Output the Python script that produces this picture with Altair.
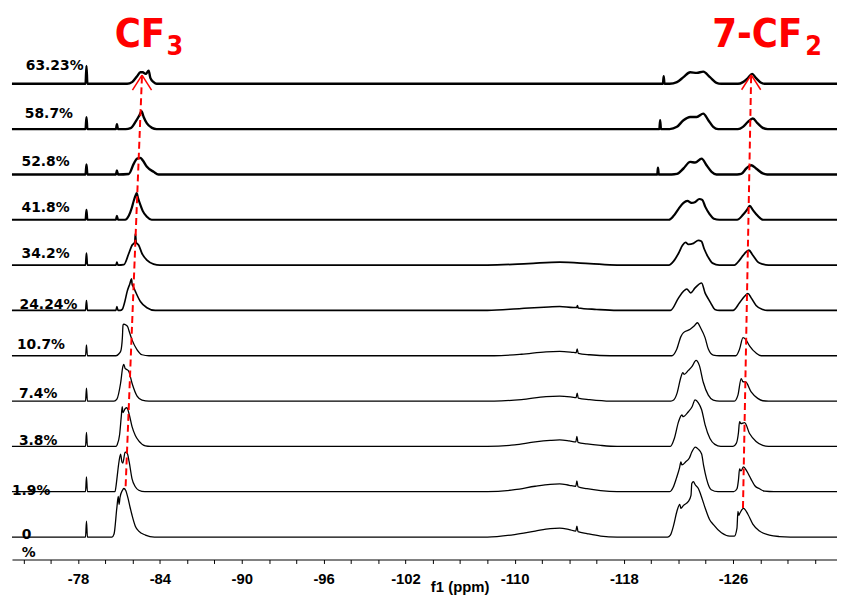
import altair as alt
import pandas as pd

# ------------------------------------------------------------------ data
concentrations = ["0\n%", "1.9%", "3.8%", "7.4%", "10.7%", "24.24%",
                  "34.2%", "41.8%", "52.8%", "58.7%", "63.23%"]

# (ppm, intensity) control points, one list per spectrum
spec_0 = [(-73.16, 0), (-78.55, 0), (-78.62, 16), (-78.69, 0),
          (-80.49, 0), (-80.64, 3), (-80.85, 30), (-80.95, 41), (-81.01, 33), (-81.08, 40),
          (-81.25, 47), (-81.36, 49), (-81.50, 47), (-81.65, 40), (-81.80, 31), (-81.96, 22),
          (-82.20, 11), (-82.45, 6), (-82.94, 2), (-83.60, 0),
          (-108.0, 0), (-110.0, 2.5), (-111.5, 6), (-112.6, 8.5), (-113.3, 9), (-114.0, 7.5),
          (-114.48, 6), (-114.56, 11), (-114.64, 5.5), (-115.3, 3.5), (-116.3, 1), (-117.5, 0),
          (-121.2, 0), (-121.41, 2), (-121.65, 12), (-121.89, 26), (-122.10, 33), (-122.18, 29),
          (-122.37, 32), (-122.73, 36), (-122.92, 42), (-122.98, 54), (-123.10, 56), (-123.22, 53),
          (-123.46, 49), (-123.63, 43), (-123.99, 28), (-124.27, 18), (-124.55, 12.7),
          (-125.15, 4.3), (-125.76, 1),
          (-126.10, 1), (-126.29, 9), (-126.36, 26), (-126.43, 22), (-126.50, 24), (-126.77, 29),
          (-127.09, 23), (-127.45, 13), (-127.94, 6), (-128.66, 2), (-129.39, 0.5), (-130.2, 0),
          (-133.62, 0)]

spec_1_9 = [(-73.16, 0), (-78.55, 0), (-78.62, 15), (-78.69, 0),
            (-80.71, 0), (-80.78, 5), (-80.85, 13), (-81.00, 30), (-81.12, 38), (-81.22, 30),
            (-81.29, 29), (-81.45, 40), (-81.60, 39), (-81.75, 30), (-81.96, 13), (-82.20, 5),
            (-82.45, 1.5), (-82.90, 0),
            (-108.0, 0), (-110.0, 2), (-111.5, 5.5), (-112.6, 7.5), (-113.3, 8), (-114.0, 6.5),
            (-114.48, 5.5), (-114.56, 11), (-114.64, 5), (-115.3, 3), (-116.3, 1), (-117.5, 0),
            (-121.35, 0), (-121.60, 4), (-121.86, 14), (-122.08, 24), (-122.18, 30), (-122.26, 27),
            (-122.52, 30), (-122.80, 34), (-122.98, 40), (-123.24, 45), (-123.45, 43), (-123.70, 38),
            (-123.85, 26), (-124.06, 13), (-124.25, 5), (-124.40, 2), (-124.9, 0),
            (-126.05, 0), (-126.29, 3), (-126.40, 12), (-126.48, 23), (-126.58, 21), (-126.77, 25),
            (-127.00, 21), (-127.31, 13), (-127.60, 6), (-127.94, 3), (-128.32, 0.5), (-129.0, 0),
            (-133.62, 0)]

spec_3_8 = [(-73.16, 0), (-78.55, 0), (-78.62, 14), (-78.69, 0),
            (-80.78, 0), (-80.88, 2), (-81.05, 12), (-81.17, 30), (-81.24, 40), (-81.30, 34),
            (-81.45, 38), (-81.58, 39), (-81.72, 34), (-81.96, 20), (-82.20, 11), (-82.45, 5.6),
            (-82.94, 0.5), (-83.30, 0),
            (-108.0, 0), (-110.0, 1.5), (-111.5, 4.5), (-112.6, 6), (-113.3, 6.5), (-114.0, 5.5),
            (-114.48, 4.5), (-114.56, 10), (-114.64, 4), (-115.3, 2.5), (-116.3, 1), (-117.5, 0),
            (-121.41, 0), (-121.70, 8), (-122.01, 25), (-122.25, 31.7), (-122.35, 30), (-122.73, 35),
            (-123.00, 40), (-123.22, 47), (-123.46, 44), (-123.70, 37), (-123.95, 22), (-124.31, 8),
            (-124.67, 2), (-125.10, 0),
            (-126.00, 0), (-126.24, 3), (-126.40, 14), (-126.48, 25), (-126.58, 23), (-126.85, 24),
            (-127.21, 13), (-127.69, 5), (-128.18, 1), (-128.60, 0),
            (-133.62, 0)]

spec_7_4 = [(-73.16, 0), (-78.55, 0), (-78.62, 13), (-78.69, 0),
            (-80.64, 0), (-80.85, 2), (-81.12, 18), (-81.29, 35), (-81.36, 37), (-81.45, 33),
            (-81.56, 32), (-81.72, 30), (-81.96, 18), (-82.33, 5), (-82.69, 1), (-83.20, 0),
            (-108.5, 0), (-110.5, 1.5), (-112.3, 4.5), (-113.3, 5), (-114.2, 4), (-114.50, 3.5),
            (-114.58, 8), (-114.66, 3), (-115.5, 1.5), (-117.0, 0),
            (-121.45, 0), (-121.65, 1), (-121.90, 8), (-122.18, 24), (-122.32, 28.7), (-122.42, 27),
            (-122.73, 31), (-123.00, 35), (-123.29, 41), (-123.53, 36), (-123.82, 19), (-124.19, 6),
            (-124.55, 1), (-125.00, 0),
            (-126.10, 0), (-126.36, 6), (-126.60, 22.7), (-126.73, 19.5), (-126.92, 19.3),
            (-127.33, 9.3), (-127.81, 2.7), (-128.18, 0.3), (-128.60, 0),
            (-133.62, 0)]

spec_10_7 = [(-73.16, 0), (-78.55, 0), (-78.62, 11), (-78.69, 0),
             (-80.78, 0), (-81.00, 2), (-81.14, 5), (-81.25, 18), (-81.30, 31), (-81.36, 32),
             (-81.51, 31), (-81.65, 29), (-81.72, 26), (-81.96, 16), (-82.33, 6), (-82.69, 1),
             (-83.20, 0),
             (-108.5, 0), (-110.5, 1.5), (-112.3, 4), (-113.3, 4.5), (-114.2, 3.5), (-114.50, 3),
             (-114.58, 7), (-114.66, 2.5), (-115.5, 1), (-117.0, 0),
             (-121.52, 0), (-121.86, 6), (-122.18, 19.3), (-122.37, 23.3), (-122.86, 26.7),
             (-123.15, 30), (-123.39, 33.3), (-123.63, 28), (-123.95, 18.3), (-124.19, 6.7),
             (-124.55, 0.7), (-125.00, 0),
             (-126.20, 0), (-126.48, 6.7), (-126.73, 18.3), (-126.92, 16.7), (-127.21, 10),
             (-127.69, 2.7), (-128.06, 0),
             (-133.62, 0)]

spec_24_24 = [(-73.16, 0), (-78.55, 0), (-78.62, 10), (-78.69, 0),
              (-80.78, 0), (-80.85, 4), (-80.93, 0),
              (-81.10, 0), (-81.24, 1), (-81.45, 10), (-81.60, 19), (-81.80, 27), (-81.92, 32),
              (-81.97, 26), (-82.05, 24), (-82.21, 19), (-82.57, 9), (-83.05, 2.7), (-83.66, 0),
              (-108.0, 0), (-110.5, 2), (-112.5, 3.5), (-113.3, 4), (-114.3, 3), (-114.55, 3),
              (-114.60, 5), (-114.65, 2.5), (-116.0, 1), (-117.5, 0),
              (-121.41, 0), (-122.01, 12.7), (-122.37, 19.3), (-122.61, 21.7), (-122.90, 17.7),
              (-123.22, 22.7), (-123.70, 27.7), (-123.95, 17.7), (-124.19, 11.7), (-124.36, 7.7),
              (-124.67, 1), (-125.00, 0),
              (-126.00, 0), (-126.48, 7.7), (-126.85, 14.3), (-127.09, 17), (-127.33, 12.7),
              (-127.69, 5), (-128.18, 1), (-128.50, 0),
              (-133.62, 0)]

spec_34_2 = [(-73.16, 0), (-78.55, 0), (-78.62, 12), (-78.69, 0),
             (-80.78, 0), (-80.85, 3), (-80.93, 0),
             (-81.36, 0.5), (-81.72, 11.7), (-81.96, 20), (-82.16, 23.3), (-82.21, 31.7),
             (-82.26, 23), (-82.45, 20), (-82.69, 11.7), (-83.05, 5), (-83.54, 1), (-84.00, 0),
             (-108.0, 0), (-111.0, 1.5), (-113.3, 3), (-115.5, 1.5), (-117.5, 0),
             (-121.30, 0), (-121.65, 4), (-122.01, 12), (-122.30, 20), (-122.52, 23), (-122.73, 21),
             (-123.10, 22), (-123.46, 25), (-123.68, 24), (-123.90, 16), (-124.18, 8),
             (-124.50, 2), (-125.00, 0),
             (-126.10, 0), (-126.48, 5), (-126.85, 11.7), (-127.16, 15), (-127.45, 10),
             (-127.81, 3.3), (-128.18, 1), (-128.60, 0),
             (-133.62, 0)]

spec_41_8 = [(-73.16, 0), (-78.55, 0), (-78.62, 10), (-78.69, 0),
             (-80.78, 0), (-80.85, 4), (-80.93, 0),
             (-81.45, 0), (-81.72, 4), (-81.94, 12), (-82.08, 19), (-82.23, 25), (-82.30, 27),
             (-82.40, 22), (-82.57, 15), (-82.74, 9), (-83.05, 3), (-83.40, 0),
             (-121.30, 0), (-121.65, 4), (-122.01, 11), (-122.37, 17), (-122.66, 19), (-122.95, 17),
             (-123.24, 18), (-123.53, 21), (-123.75, 20), (-123.97, 13), (-124.27, 6),
             (-124.60, 1), (-125.00, 0),
             (-126.30, 0), (-126.73, 5), (-127.02, 10), (-127.23, 14), (-127.45, 10),
             (-127.81, 4), (-128.20, 0),
             (-133.62, 0)]

spec_52_8 = [(-73.16, 0), (-78.55, 0), (-78.62, 10), (-78.69, 0),
             (-80.78, 0), (-80.85, 4), (-80.93, 0),
             (-81.72, 0.5), (-82.09, 11), (-82.33, 16), (-82.57, 16.7), (-82.74, 14.3),
             (-83.05, 7.7), (-83.54, 2.7), (-83.90, 0),
             (-120.45, 0), (-120.50, 6.7), (-120.56, 0),
             (-121.50, 0), (-121.89, 0.5), (-122.37, 6), (-122.86, 12.7), (-123.22, 12),
             (-123.70, 16), (-124.06, 9.3), (-124.43, 2.7), (-124.79, 0),
             (-126.30, 0), (-126.60, 0.5), (-126.97, 6), (-127.33, 9.3), (-127.69, 6),
             (-128.18, 1), (-128.50, 0),
             (-133.62, 0)]

spec_58_7 = [(-73.16, 0), (-78.55, 0), (-78.62, 12), (-78.69, 0),
             (-80.78, 0), (-80.85, 5), (-80.93, 0),
             (-81.50, 0), (-81.85, 1), (-82.21, 7.3), (-82.50, 14), (-82.65, 18), (-82.81, 12.3),
             (-83.05, 5.7), (-83.42, 1.3), (-83.76, 0),
             (-120.60, 0), (-120.66, 9), (-120.72, 0),
             (-121.35, 0), (-121.89, 2.3), (-122.37, 9), (-122.86, 12.3), (-123.34, 12.3),
             (-123.82, 15.7), (-124.19, 9), (-124.55, 2.3), (-124.91, 0),
             (-126.36, 0), (-126.73, 2.3), (-127.09, 7.3), (-127.45, 10.7), (-127.81, 5.7),
             (-128.18, 1.3), (-128.54, 0),
             (-133.62, 0)]

spec_63_23 = [(-73.16, 0), (-78.55, 0), (-78.62, 18), (-78.69, 0),
              (-81.60, 0), (-81.96, 1.7), (-82.33, 7.7), (-82.57, 11.7), (-82.74, 11.7),
              (-82.96, 10), (-83.18, 13.3), (-83.30, 6), (-83.54, 1.7), (-83.76, 0),
              (-120.86, 0), (-120.92, 7.7), (-120.98, 0),
              (-121.35, 0), (-121.89, 1.7), (-122.37, 6.7), (-122.86, 11.7), (-123.34, 11),
              (-123.82, 12.3), (-124.31, 6.7), (-124.79, 1), (-125.13, 0),
              (-126.36, 0), (-126.73, 1.7), (-127.09, 5.7), (-127.40, 10), (-127.69, 5.7),
              (-128.06, 1), (-128.32, 0),
              (-133.62, 0)]

spectra = [spec_0, spec_1_9, spec_3_8, spec_7_4, spec_10_7, spec_24_24,
           spec_34_2, spec_41_8, spec_52_8, spec_58_7, spec_63_23]

tick_values = [-74, -76, -78, -80, -82, -84, -86, -88, -90, -92, -94, -96, -98, -100,
               -102, -104, -106, -108, -110, -112, -114, -116, -118, -120, -122, -124,
               -126, -128, -130, -132]
tick_labels = [-78, -84, -90, -96, -102, -110, -118, -126]

# peak-shift guides: (ppm, stacked intensity) start -> arrow tip
cf3_guide = [(-81.49, 74.0), (-82.69, 489.0)]
cf2_guide = [(-126.73, 52.0), (-127.33, 489.3)]
peak_names = ["CF", "7-CF"]
peak_subs = ["3", "2"]

# ------------------------------------------------------------------ layout
stack_base = 22.7
stack_gap = 45.76
line_widths = [1.3, 1.3, 1.3, 1.3, 1.3, 1.6, 1.8, 2.2, 2.4, 2.4, 2.4]
label_x = [-73.885, -73.159, -73.667, -73.667, -73.522, -73.718,
           -73.863, -73.863, -73.863, -74.103, -74.175]
label_dy = [-1.7, -3.7, 1.3, 2.7, 7.0, 1.3, 7.0, 8.0, 8.7, 11.3, 13.7]
name_anchor = [(-84.388, 517.0), (-131.08, 517.0)]
sub_anchor = [(-84.482, 509.0), (-131.30, 509.0)]
head_half_w = 0.70
head_len = 15.0

X_DOMAIN = [-133.62, -73.16]
Y_DOMAIN = [0, 554]
RED_FONT = "Liberation Sans Narrow, DejaVu Sans Condensed, sans-serif"

rows = []
for i, (name, spec) in enumerate(zip(concentrations, spectra)):
    off = stack_base + stack_gap * i
    for p, v in spec:
        rows.append({"series": name, "ppm": p, "y": off + v, "sw": line_widths[i]})
spec_df = pd.DataFrame(rows)

lab_df = pd.DataFrame({
    "text": concentrations,
    "ppm": label_x,
    "y": [stack_base + stack_gap * i + d for i, d in enumerate(label_dy)],
})

guide_df = pd.DataFrame([
    {"ppm": g[0][0], "y": g[0][1], "ppm2": g[1][0], "y2": g[1][1]}
    for g in (cf3_guide, cf2_guide)
])

head_rows = []
for g in (cf3_guide, cf2_guide):
    tx, ty = g[1]
    for s in (-1, 1):
        head_rows.append({"ppm": tx, "y": ty, "ppm2": tx + s * head_half_w, "y2": ty - head_len})
head_df = pd.DataFrame(head_rows)

name_df = pd.DataFrame({"text": peak_names,
                        "ppm": [a[0] for a in name_anchor],
                        "y": [a[1] for a in name_anchor]})
sub_df = pd.DataFrame({"text": peak_subs,
                       "ppm": [a[0] for a in sub_anchor],
                       "y": [a[1] for a in sub_anchor]})

xscale = alt.Scale(domain=X_DOMAIN, reverse=True, nice=False, zero=False)
yscale = alt.Scale(domain=Y_DOMAIN, nice=False, zero=False)

label_expr = ("indexof([" + ",".join(str(v) for v in tick_labels) +
              "], datum.value) >= 0 ? '' + datum.value : ''")

x_axis = alt.Axis(values=tick_values, labelExpr=label_expr, title="f1 (ppm)",
                  labelFont="Liberation Sans", labelFontWeight="bold", labelFontSize=15,
                  labelColor="black", labelPadding=8, labelOverlap=False, labelFlush=False,
                  labelBound=False,
                  tickColor="black", tickSize=4, tickWidth=1,
                  domainColor="black", domainWidth=1, grid=False,
                  titleFont="Liberation Sans", titleFontWeight="bold", titleFontSize=15,
                  titleColor="black", titleX=452, titleY=32, titleBaseline="alphabetic")

X = alt.X("ppm:Q", scale=xscale, axis=x_axis)
Y = alt.Y("y:Q", scale=yscale, axis=None)

lines = alt.Chart(spec_df).mark_line(color="black", interpolate="monotone").encode(
    x=X, y=Y, detail="series:N",
    strokeWidth=alt.StrokeWidth("sw:Q", scale=None, legend=None),
)

labels = alt.Chart(lab_df).mark_text(
    align="left", baseline="alphabetic", font="DejaVu Sans", fontWeight="bold",
    fontSize=14, color="black", lineBreak="\n", lineHeight=18
).encode(x=X, y=Y, text="text:N")

guides = alt.Chart(guide_df).mark_rule(color="#ff0000", strokeWidth=2, strokeDash=[7, 4]).encode(
    x=X, y=Y, x2="ppm2:Q", y2="y2:Q")

heads = alt.Chart(head_df).mark_rule(color="#ff0000", strokeWidth=1.5).encode(
    x=X, y=Y, x2="ppm2:Q", y2="y2:Q")

names = alt.Chart(name_df).mark_text(
    align="right", baseline="alphabetic", font=RED_FONT,
    fontWeight="bold", fontSize=40, color="#ff0000"
).encode(x=X, y=Y, text="text:N")

subs = alt.Chart(sub_df).mark_text(
    align="left", baseline="alphabetic", font=RED_FONT,
    fontWeight="bold", fontSize=27, color="#ff0000"
).encode(x=X, y=Y, text="text:N")

chart = alt.layer(lines, labels, guides, heads, names, subs).properties(
    width=833, height=554, background="white",
    autosize=alt.AutoSizeParams(type="none"),
    padding={"left": 4, "top": 0, "right": 0, "bottom": 33},
).configure_view(stroke=None).configure_axis(labelOverlap=False)

chart.save("out.html", embed_options={"renderer": "svg", "actions": False})
